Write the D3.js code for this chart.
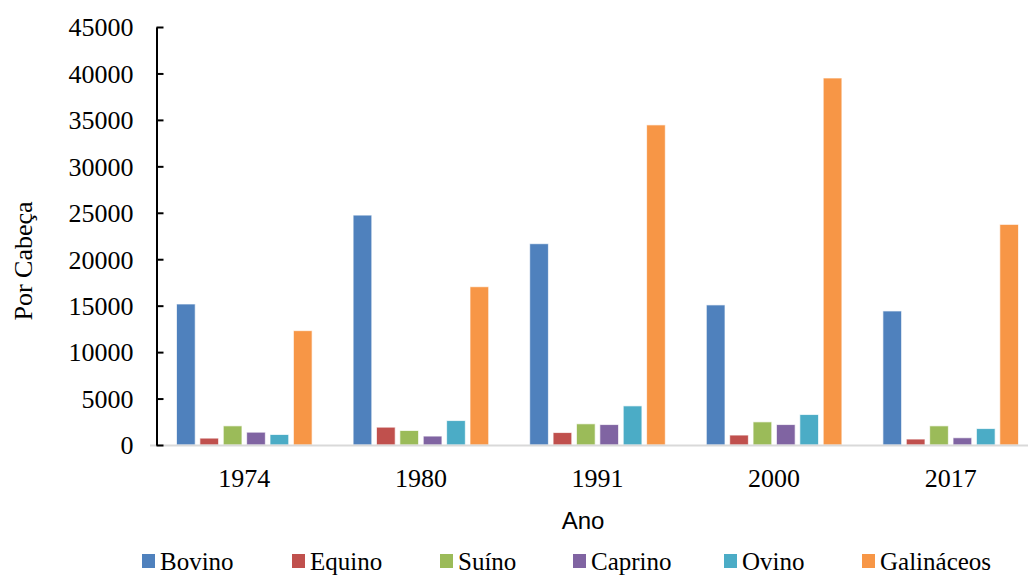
<!DOCTYPE html>
<html>
<head>
<meta charset="utf-8">
<script src="https://cdn.jsdelivr.net/npm/d3@7"></script>
<style>
  body { margin: 0; background: #fff; }
  svg { display: block; }
</style>
</head>
<body>
<div class="chart"></div>
<script>
// data
const years = ['1974', '1980', '1991', '2000', '2017'];
const species = ['Bovino', 'Equino', 'Suíno', 'Caprino', 'Ovino', 'Galináceos'];
const bovino     = [15180, 24750, 21670, 15080, 14430];
const equino     = [740, 1920, 1340, 1070, 640];
const suino      = [2060, 1560, 2280, 2490, 2060];
const caprino    = [1380, 960, 2200, 2200, 780];
const ovino      = [1130, 2630, 4210, 3280, 1770];
const galinaceos = [12310, 17040, 34460, 39510, 23750];
const yTicks = [0, 5000, 10000, 15000, 20000, 25000, 30000, 35000, 40000, 45000];
const colors = ['#4F81BD', '#C0504D', '#9BBB59', '#8064A2', '#4BACC6', '#F79646'];

const series = [bovino, equino, suino, caprino, ovino, galinaceos];

const SERIF = '"Liberation Serif", "Times New Roman", serif';
const SANS = '"Liberation Sans", Arial, sans-serif';

const width = 1028, height = 577;

const svg = d3.select('div.chart')
  .append('svg')
  .attr('width', width)
  .attr('height', height);

const y = d3.scaleLinear()
  .domain([0, 45000])
  .range([445, 27]);

// band runs past the right edge, like the original export
const x0 = d3.scaleBand()
  .domain(years)
  .range([156, 1039]);

const x1 = d3.scaleBand()
  .domain(species)
  .range([20.5, x0.bandwidth() - 20.5])
  .paddingInner(0.2);

const color = d3.scaleOrdinal().domain(species).range(colors);

// bars
const groups = svg.append('g')
  .selectAll('g')
  .data(years)
  .enter().append('g')
    .attr('transform', d => `translate(${x0(d)},0)`);

groups.selectAll('rect')
  .data((yr, i) => species.map((s, j) => ({s: s, v: series[j][i]})))
  .enter().append('rect')
    .attr('x', d => x1(d.s))
    .attr('width', x1.bandwidth())
    .attr('y', d => y(d.v))
    .attr('height', d => y(0) - y(d.v))
    .style('fill', d => color(d.s))
    .style('stroke', 'rgba(255,255,255,0.7)')
    .style('stroke-width', 1);

// x axis line
svg.append('line')
  .attr('x1', 150).attr('x2', width)
  .attr('y1', 445.5).attr('y2', 445.5)
  .style('stroke', '#d9d9d9')
  .style('stroke-width', 2);

// y axis
const yAxis = d3.axisLeft(y)
  .tickValues(yTicks)
  .tickSizeInner(-7)
  .tickSizeOuter(0)
  .tickPadding(23)
  .tickFormat(d3.format('d'));

const ya = svg.append('g')
  .attr('transform', 'translate(156.5,0)')
  .call(yAxis)
  .attr('font-family', SERIF)
  .attr('font-size', 26);
ya.select('.domain').style('stroke', '#000').style('stroke-width', 2);
ya.selectAll('.tick line').style('stroke', '#000').style('stroke-width', 2);
ya.selectAll('.tick text')
  .attr('font-family', SERIF)
  .style('font-family', SERIF)
  .style('font-size', '26px')
  .style('fill', '#000')
  .attr('dy', '0.34em');

// category labels
svg.append('g')
  .selectAll('text')
  .data(years)
  .enter().append('text')
    .attr('x', d => x0(d) + x0.bandwidth() / 2)
    .attr('y', 487)
    .attr('text-anchor', 'middle')
    .style('font-family', SERIF)
    .style('font-size', '26px')
    .text(d => d);

// axis titles
svg.append('text')
  .attr('x', 583)
  .attr('y', 529)
  .attr('text-anchor', 'middle')
  .style('font-family', SANS)
  .style('font-size', '24px')
  .text('Ano');

svg.append('text')
  .attr('transform', 'translate(32,261) rotate(-90)')
  .attr('text-anchor', 'middle')
  .style('font-family', SERIF)
  .style('font-size', '26px')
  .text('Por Cabeça');

// legend (kept a touch higher so descenders stay inside the frame)
const legendX = [142, 292, 440, 573, 724, 862];
const legend = svg.append('g')
  .selectAll('g')
  .data(species)
  .enter().append('g')
    .attr('transform', (d, i) => `translate(${legendX[i]},554)`);

legend.append('rect')
  .attr('width', 13)
  .attr('height', 14)
  .style('fill', d => color(d));

legend.append('text')
  .attr('x', 18)
  .attr('y', 16)
  .style('font-family', SERIF)
  .style('font-size', '25px')
  .text(d => d);
</script>
</body>
</html>
